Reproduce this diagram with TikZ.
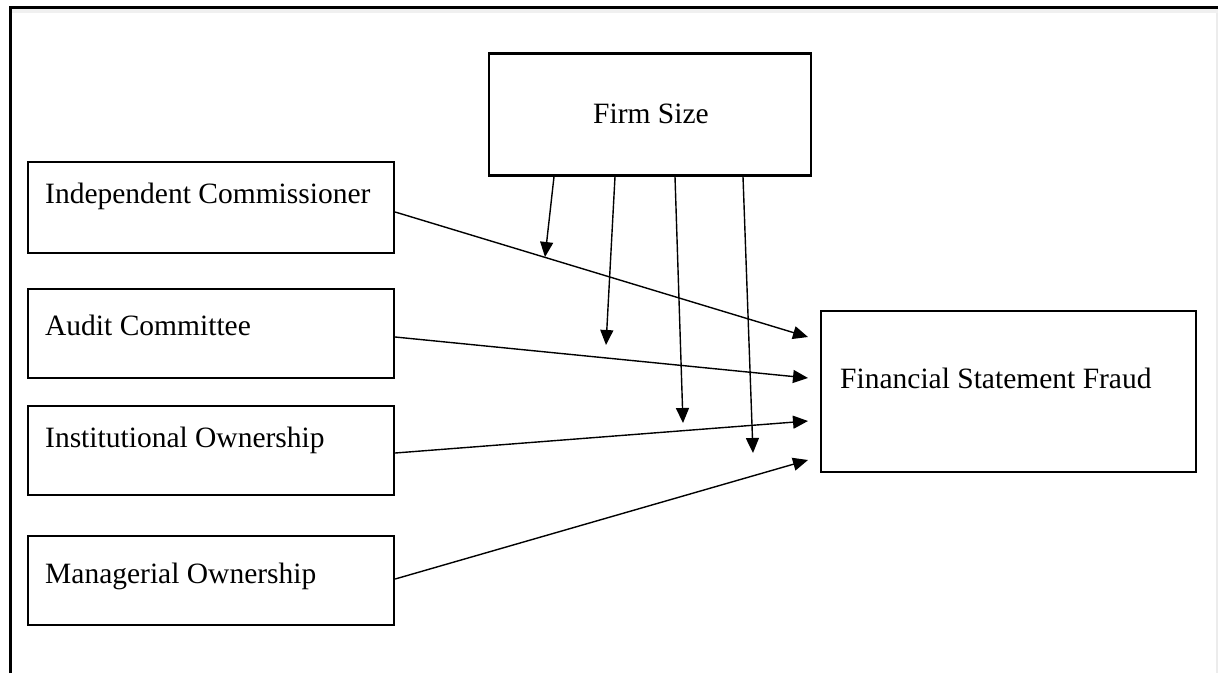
\documentclass[tikz,border=0pt]{standalone}
\usepackage{fontspec}
\setmainfont{Liberation Serif}
\usetikzlibrary{arrows.meta,calc}
\tikzset{
  box/.style={draw=black, line width=2.3pt, rectangle, inner sep=0pt},
  lbl/.style={anchor=base west, inner sep=0pt, font=\fontsize{29.5}{32}\selectfont},
  conn/.style={draw=black, line width=1.4pt, -{Triangle[length=15pt,width=13pt]}},
}
\begin{document}
\begin{tikzpicture}[x=1pt,y=-1pt]
\useasboundingbox (0,0) rectangle (1218,673);
% frame
\draw[gray!15, line width=2pt] (1216.5,10) -- (1216.5,673);
\draw[gray!12, line width=4pt] (12,11) -- (1218,11);
\draw[black, line width=3pt] (10,673) -- (10,7) -- (1218,7);
% boxes
\node[box, minimum width=322pt, minimum height=122pt] (fs) at (650,114.5) {};
\node[box, minimum width=366pt, minimum height=91pt] (ic) at (211,207.5) {};
\node[box, minimum width=366pt, minimum height=89pt] (ac) at (211,333.5) {};
\node[box, minimum width=366pt, minimum height=89pt] (io) at (211,450.5) {};
\node[box, minimum width=366pt, minimum height=89pt] (mo) at (211,580.5) {};
\node[box, line width=1.8pt, minimum width=375pt, minimum height=161pt] (fsf) at (1008.5,391.5) {};
% labels
\node[lbl] (tfs) at (593,123) {Firm Size};
\node[lbl] (tic) at (45,203) {Independent Commissioner};
\node[lbl] (tac) at (45,335) {Audit Committee};
\node[lbl] (tio) at (45,447) {Institutional Ownership};
\node[lbl] (tmo) at (45,583) {Managerial Ownership};
\node[lbl] (tfsf) at (840,388) {Financial Statement Fraud};
% arrow end points
\coordinate (t1) at (808,337);
\coordinate (t2) at (808,378);
\coordinate (t3) at (808,421);
\coordinate (t4) at (808,460);
\coordinate (m1) at (545,257);
\coordinate (m2) at (606,345);
\coordinate (m3) at (683,423);
\coordinate (m4) at (753,453);
% main arrows
\draw[conn] ([yshift=-4.5pt]ic.east) -- (t1);
\draw[conn] ([yshift=-3.5pt]ac.east) -- (t2);
\draw[conn] ([yshift=-2.5pt]io.east) -- (t3);
\draw[conn] ([yshift=1.5pt]mo.east) -- (t4);
% moderating arrows
\draw[conn] ([xshift=-96pt]fs.south) -- (m1);
\draw[conn] ([xshift=-35pt]fs.south) -- (m2);
\draw[conn] ([xshift=25pt]fs.south) -- (m3);
\draw[conn] ([xshift=93pt]fs.south) -- (m4);
\end{tikzpicture}
\end{document}
